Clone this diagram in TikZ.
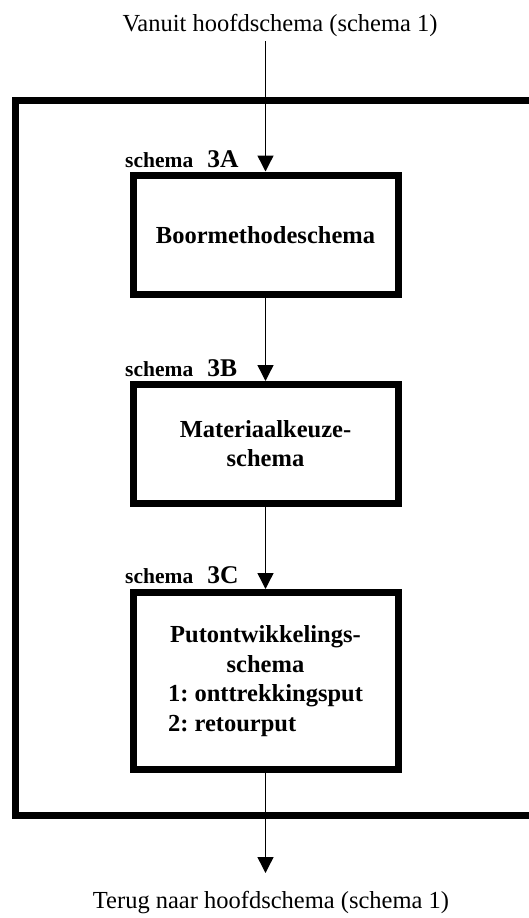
\documentclass[tikz,border=0pt]{standalone}
\usepackage{fontspec}
\setmainfont{Liberation Serif}
\usetikzlibrary{arrows.meta}
\frenchspacing
\newcommand{\schemetag}[1]{\fontsize{21.5}{26}\selectfont schema\hspace{14pt}\fontsize{25.5}{30}\selectfont #1}
\begin{document}
\begin{tikzpicture}[x=1pt,y=-1pt,
  stepbox/.style={draw,line width=7pt,minimum width=265pt,align=center,inner sep=0pt,
    font=\fontsize{24.5}{29.5}\selectfont\bfseries},
  plain/.style={font=\fontsize{24.5}{29.5}\selectfont,inner sep=0pt,anchor=base},
  tag/.style={inner sep=0pt,anchor=base west,font=\bfseries},
  flow/.style={line width=1.4pt,-{Triangle[width=16pt,length=16pt]}},
  frame/.style={line width=7pt}]
  \clip (0,0) rectangle (529,918);
  % enclosing frame, running out past the right edge
  \draw[frame] (15,100.5) rectangle (575,815.8);

  % entry and exit texts
  \node[plain] (from) at (280,31) {Vanuit hoofdschema (schema 1)};
  \node[plain] (back) at (271,908) {Terug naar hoofdschema (schema 1)};

  % the three sub-schemes
  \node[stepbox,minimum height=119.5pt] (a) at (265.5,234.75) {Boormethodeschema};
  \node[stepbox,minimum height=118.5pt] (b) at (265.5,443.75) {Materiaalkeuze-\\schema};
  \node[stepbox,minimum height=177pt] (c) at (265.5,681)
    {Putontwikkelings-\\schema\\1: onttrekkingsput\\
     \makebox[0pt][l]{2: retourput}\hphantom{1: onttrekkingsput}};

  % scheme labels
  \node[tag] (la) at (125,167.5) {\schemetag{3A}};
  \node[tag] (lb) at (125,376.5) {\schemetag{3B}};
  \node[tag] (lc) at (125,583.5) {\schemetag{3C}};

  % connectors
  \coordinate (in) at (265.5,41);
  \coordinate (out) at (265.5,873);
  \draw[flow] (in) -- (a.north);
  \draw[flow] (a.south) -- (b.north);
  \draw[flow] (b.south) -- (c.north);
  \draw[flow] (c.south) -- (out);
\end{tikzpicture}
\end{document}
